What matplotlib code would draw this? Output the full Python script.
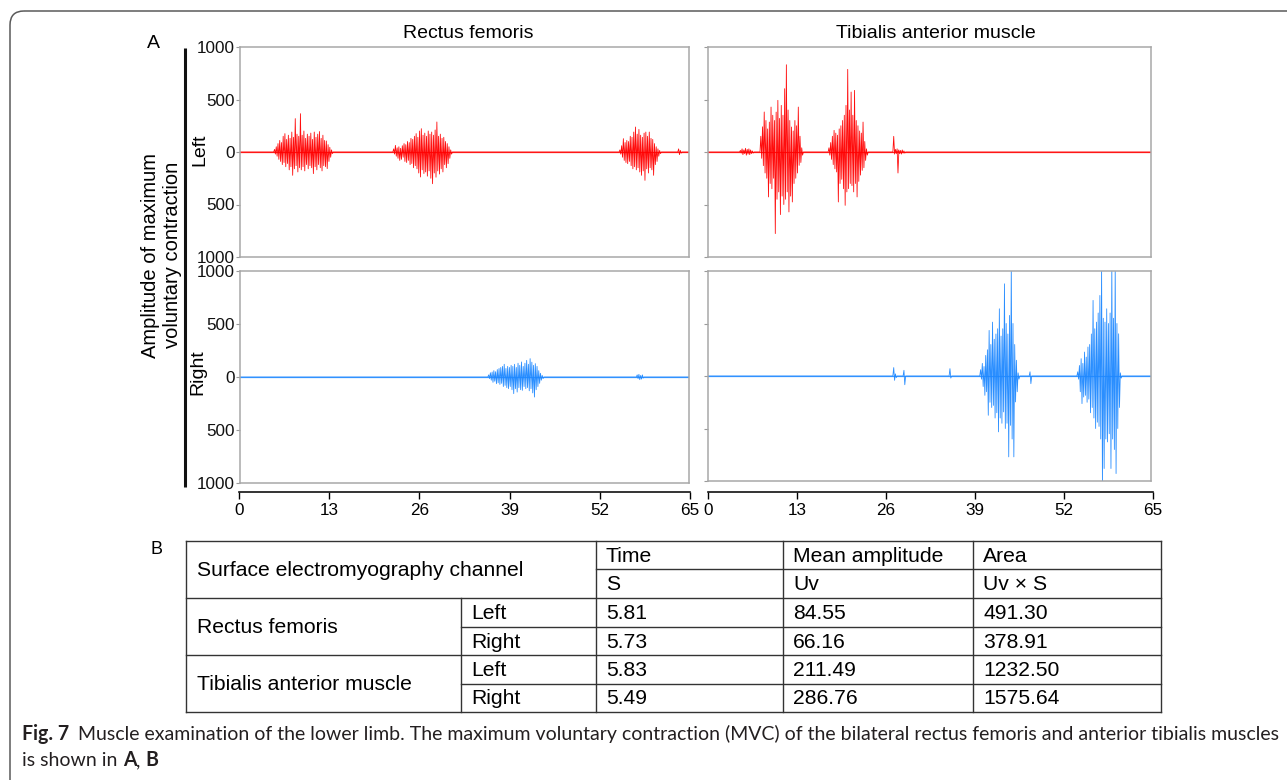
import numpy as np
import matplotlib
matplotlib.use("Agg")
import matplotlib.pyplot as plt
from matplotlib.patches import FancyBboxPatch

plt.rcParams['font.family'] = ['Liberation Sans', 'DejaVu Sans']

# ---------------- data ----------------
x_ticks = [0, 13, 26, 39, 52, 65]
y_ticks = [1000, 500, 0, -500, -1000]
y_tick_labels = ['1000', '500', '0', '500', '1000']
muscles = ['Rectus femoris', 'Tibialis anterior muscle']
sides = ['Left', 'Right']
T_MIN, T_MAX = 0, 65
STEP = 0.25  # sampling step of the read-off burst envelopes (s)

# bursts: (start time, upper peaks, lower peaks)
rf_left_bursts = [
    (5.0,
     [25, 50, 80, 110, 90, 150, 175, 120, 160, 130, 190, 140, 318, 170, 150, 365, 160,
      200, 130, 170, 150, 180, 120, 190, 140, 170, 195, 130, 160, 110, 105, 70, 45, 20],
     [-20, -40, -70, -90, -120, -100, -140, -110, -170, -140, -222, -160, -130, -190, -150,
      -170, -140, -180, -120, -160, -130, -150, -206, -140, -170, -120, -150, -180, -130,
      -140, -158, -90, -50, -15]),
    (22.25,
     [30, 63, 40, 50, 35, 60, 80, 70, 100, 90, 130, 120, 150, 175, 140, 200, 222, 160,
      180, 150, 200, 170, 190, 160, 210, 286, 150, 170, 130, 140, 100, 80, 50, 20],
     [-20, -40, -60, -80, -70, -50, -90, -100, -80, -120, -110, -150, -130, -160, -200,
      -238, -170, -205, -190, -230, -180, -250, -302, -200, -240, -180, -210, -160, -190,
      -120, -150, -111, -60, -20]),
    (55.0,
     [20, 60, 127, 90, 110, 100, 150, 140, 190, 238, 170, 215, 160, 140, 180, 190, 150,
      190, 130, 120, 80, 50, 30, 15],
     [-20, -50, -80, -100, -111, -90, -130, -160, -140, -170, -150, -190, -222, -180, -270,
      -160, -200, -150, -170, -222, -120, -90, -40, -15]),
    (63.5, [30, 15], [-25, -10]),
]

ta_left_bursts = [
    (4.75, [15, 30, 20, 35, 25, 30, 20, 10], [-10, -25, -15, -30, -20, -25, -15, -10]),
    (7.75,
     [150, 240, 381, 300, 220, 285, 428, 350, 300, 380, 492, 320, 444, 350, 603, 831, 400,
      300, 238, 200, 300, 250, 428, 150, 40],
     [-60, -130, -200, -250, -428, -300, -350, -250, -777, -450, -380, -596, -420, -500,
      -450, -380, -571, -420, -476, -300, -250, -200, -127, -100, -30]),
    (17.75,
     [40, 90, 150, 206, 180, 160, 220, 250, 300, 350, 444, 787, 400, 571, 350, 587, 300,
      250, 200, 180, 285, 100, 30],
     [-30, -70, -120, -160, -190, -476, -300, -260, -350, -508, -380, -349, -300, -320,
      -380, -300, -428, -280, -220, -175, -150, -80, -30]),
    (27.25, [149, 25, 30], [-20, -15, -200]),
    (28.0, [20, 15, 20, 10], [-15, -20, -10, -10]),
]

rf_right_bursts = [
    (36.0,
     [20, 40, 47, 60, 50, 70, 80, 90, 100, 120, 80, 100, 90, 110, 100, 120, 90, 130, 110,
      142, 100, 130, 157, 120, 173, 140, 110, 126, 100, 60, 35, 15],
     [-15, -30, -50, -40, -63, -55, -70, -60, -90, -79, -100, -110, -90, -120, -157, -110,
      -142, -100, -120, -126, -90, -110, -100, -130, -110, -150, -189, -120, -90, -60,
      -30, -15]),
    (57.5, [20, 25, 15, 20], [-15, -25, -20, -10]),
]

ta_right_bursts = [
    (27.25, [80, 20], [-41, -15]),
    (28.75, [54], [-83]),
    (35.5, [70], [-20]),
    (40.0,
     [60, 120, 90, 196, 250, 434, 300, 513, 350, 400, 450, 640, 380, 450, 878, 500, 400,
      577, 1050, 500, 300, 150, 30],
     [-30, -100, -184, -150, -374, -250, -300, -280, -400, -350, -532, -400, -450, -342,
      -500, -450, -770, -470, -600, -770, -247, -150, -30]),
    (47.25, [40], [-73]),
    (54.25,
     [40, 100, 165, 120, 228, 180, 276, 300, 400, 720, 450, 513, 600, 767, 1050, 550, 513,
      640, 500, 600, 1050, 550, 1050, 500, 402, 30],
     [-30, -150, -263, -200, -184, -250, -220, -350, -300, -400, -500, -440, -480, -600,
      -1050, -881, -600, -628, -550, -881, -600, -700, -929, -500, -300, -20]),
]

# table B
tbl_header = 'Surface electromyography channel'
tbl_cols = ['Time', 'Mean amplitude', 'Area']
tbl_units = ['S', 'Uv', 'Uv \u00d7 S']
tbl_groups = ['Rectus femoris', 'Tibialis anterior muscle']
tbl_sides = ['Left', 'Right', 'Left', 'Right']
time_s = ['5.81', '5.73', '5.83', '5.49']
mean_amp = ['84.55', '66.16', '211.49', '286.76']
area = ['491.30', '378.91', '1232.50', '1575.64']

caption_bold = 'Fig. 7'
caption_line1 = ('Muscle examination of the lower limb. The maximum voluntary contraction (MVC) '
                 'of the bilateral rectus femoris and anterior tibialis muscles')

RED = '#ff0000'
BLUE = '#1e88ff'

# ---------------- figure ----------------
W, H = 1287, 780
fig = plt.figure(figsize=(W / 100, H / 100), dpi=100)
ov = fig.add_axes([0, 0, 1, 1], zorder=0)
ov.set_xlim(0, W)
ov.set_ylim(H, 0)
ov.axis('off')


def fx(px):
    return px / W


def fy(py):
    return 1 - py / H


def build_trace(bursts):
    xs, ys = [T_MIN], [0.0]
    for start, hi, lo in bursts:
        t = start + STEP * np.arange(len(hi))
        xs.append(start - STEP / 2)
        ys.append(0.0)
        for ti, h, l in zip(t, hi, lo):
            xs += [ti, ti + STEP / 2]
            ys += [h, l]
        xs.append(t[-1] + STEP)
        ys.append(0.0)
    xs.append(T_MAX)
    ys.append(0.0)
    return xs, ys


def add_panel(x0, x1, y0, y1, bursts, color, labels):
    ax = fig.add_axes([fx(x0), fy(y1), (x1 - x0) / W, (y1 - y0) / H], zorder=2)
    ax.set_xlim(T_MIN, T_MAX)
    ax.set_ylim(-1000, 1000)
    for sp in ax.spines.values():
        sp.set_color('#a8a8a8')
        sp.set_linewidth(1.1)
    ax.set_xticks([])
    ax.set_yticks(y_ticks)
    ax.set_yticklabels(y_tick_labels if labels else [])
    ax.tick_params(axis='y', direction='out', length=3, width=0.8, color='#9a9a9a',
                   labelsize=12.3, pad=1, labelcolor='#111111')
    ax.axhline(0, color=color, lw=0.9, alpha=0.85)
    xs, ys = build_trace(bursts)
    ax.plot(xs, ys, color=color, lw=0.6, alpha=0.95)
    return ax


add_panel(240, 689, 47, 257, rf_left_bursts, RED, True)
add_panel(708, 1151, 47, 257, ta_left_bursts, RED, False)
add_panel(240, 689, 271, 483, rf_right_bursts, BLUE, True)
add_panel(708, 1151, 271, 481, ta_right_bursts, BLUE, False)


def add_xaxis(x0, x1, y):
    ax = fig.add_axes([fx(x0), fy(y), (x1 - x0) / W, 0.0001], zorder=2)
    ax.set_xlim(T_MIN, T_MAX)
    for s in ['top', 'left', 'right']:
        ax.spines[s].set_visible(False)
    ax.spines['bottom'].set_color('#111111')
    ax.spines['bottom'].set_linewidth(1.2)
    ax.patch.set_visible(False)
    ax.set_yticks([])
    ax.set_xticks(x_ticks)
    ax.tick_params(axis='x', direction='out', length=5, width=1.0, labelsize=12.3, pad=3)


add_xaxis(239, 690, 492)
add_xaxis(708, 1153, 492)

# labels for part A
ov.text(153, 44, 'A', fontsize=14, ha='center', va='center')
ov.text(468, 34, muscles[0], fontsize=14, ha='center', va='center')
ov.text(936, 34, muscles[1], fontsize=14, ha='center', va='center')
ov.text(200, 150, sides[0], fontsize=14, rotation=90, ha='center', va='center')
ov.text(198, 372, sides[1], fontsize=14, rotation=90, ha='center', va='center')
ov.text(162, 255, 'Amplitude of maximum\nvoluntary contraction', fontsize=14.5,
        rotation=90, ha='center', va='center', multialignment='center')
ov.plot([185, 185], [48, 487], color='#111111', lw=2.2, solid_capstyle='butt')

# ---------------- table B ----------------
ov.text(157, 549, 'B', fontsize=13, ha='center', va='center')
c = [186, 461, 596, 783, 973, 1161]
r = [541, 569, 598, 627, 655, 684, 712]
LC = '#333333'
LW = 1.0
for yy in (r[0], r[2], r[4], r[6]):
    ov.plot([c[0], c[5]], [yy, yy], color=LC, lw=LW)
ov.plot([c[2], c[5]], [r[1], r[1]], color=LC, lw=LW)
for yy in (r[3], r[5]):
    ov.plot([c[1], c[5]], [yy, yy], color=LC, lw=LW)
for xx in (c[0], c[2], c[3], c[4], c[5]):
    ov.plot([xx, xx], [r[0], r[6]], color=LC, lw=LW)
ov.plot([c[1], c[1]], [r[2], r[6]], color=LC, lw=LW)

TS = 15.2
ov.text(c[0] + 11, (r[0] + r[2]) / 2 + 1, tbl_header, fontsize=TS, ha='left', va='center')
for j in range(3):
    ov.text(c[2 + j] + 10, (r[0] + r[1]) / 2 + 1, tbl_cols[j], fontsize=TS, ha='left', va='center')
    ov.text(c[2 + j] + 10, (r[1] + r[2]) / 2 + 1, tbl_units[j], fontsize=TS, ha='left', va='center')
for g in range(2):
    ov.text(c[0] + 11, (r[2 + 2 * g] + r[4 + 2 * g]) / 2 + 1, tbl_groups[g], fontsize=TS,
            ha='left', va='center')
for i in range(4):
    yc = (r[2 + i] + r[3 + i]) / 2 + 1
    ov.text(c[1] + 10, yc, tbl_sides[i], fontsize=TS, ha='left', va='center')
    ov.text(c[2] + 10, yc, time_s[i], fontsize=TS, ha='left', va='center')
    ov.text(c[3] + 10, yc, mean_amp[i], fontsize=TS, ha='left', va='center')
    ov.text(c[4] + 10, yc, area[i], fontsize=TS, ha='left', va='center')

# ---------------- caption ----------------
CF = ['Lato', 'Open Sans', 'DejaVu Sans']
CC = '#231f20'
renderer = fig.canvas.get_renderer()


def runs(x, y, parts, size):
    arts = []
    for s, wgt, gap in parts:
        t = ov.text(x, y, s, fontsize=size, fontweight=wgt, family=CF, color=CC,
                    ha='left', va='baseline')
        arts.append(t)
        x += t.get_window_extent(renderer).width + gap * size / 12
    return arts, x


line1 = [(caption_bold, 'bold', 8), (caption_line1, 'normal', 0)]
line2 = [('is shown in', 'normal', 4.5), ('A', 'bold', 0), (',', 'normal', 4.5), ('B', 'bold', 0)]
# fit caption line 1 to the text block width (22 .. 1277 px)
arts, xend = runs(22, 740, line1, 12)
CS = 12 * (1277 - 22) / (xend - 22)
for a in arts:
    a.remove()
runs(22, 740, line1, CS)
runs(22, 766, line2, CS)

# frame
frame = FancyBboxPatch((10, 11), 1400, 900, boxstyle='round,pad=0,rounding_size=14',
                       ec='#5a5a5a', fc='none', lw=1.1)
ov.add_patch(frame)

fig.savefig('out.png', dpi=100)
